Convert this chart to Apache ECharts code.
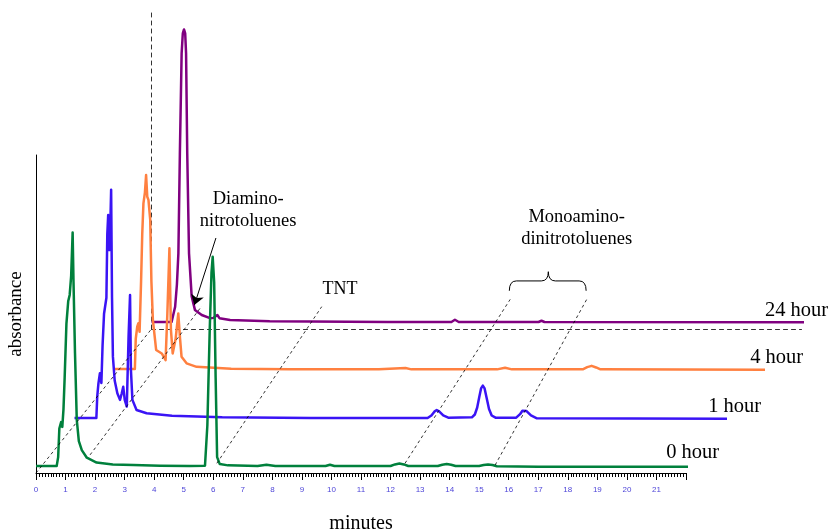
<!DOCTYPE html>
<html>
<head>
<meta charset="utf-8">
<script src="https://cdn.jsdelivr.net/npm/echarts@6/dist/echarts.min.js"></script>
<style>
  html, body { margin: 0; padding: 0; background: #fff; }
  #chart { width: 830px; height: 530px; }
</style>
</head>
<body>
<div id="chart"></div>
<script>
// retention time (minutes) / absorbance, one pair of arrays per sampling time
const hour0Time = [0, 0.7, 0.75, 0.79, 0.85, 0.89, 0.93, 0.97, 1.03, 1.09, 1.14, 1.19, 1.24, 1.27, 1.32, 1.38, 1.45, 1.55, 1.72, 2.05, 2.6, 3.3, 4.2, 5.2, 5.72, 5.8, 5.88, 5.94, 5.98, 6.03, 6.08, 6.13, 6.22, 6.5, 7.5, 7.8, 8.1, 9.8, 9.95, 10.1, 12.0, 12.15, 12.3, 12.45, 12.6, 13.6, 13.75, 13.9, 14.05, 14.2, 15.0, 15.15, 15.3, 15.45, 15.6, 17, 22.15]
const hour0Abs = [2.2, 2.2, 5, 14, 16, 14.5, 20, 30, 47, 54, 56, 62, 75.6, 60, 37.7, 16.7, 10, 7.2, 4.8, 3.3, 2.7, 2.5, 2.3, 2.2, 2.3, 15, 45, 63, 68, 60, 30, 5, 2.8, 2.4, 2.2, 2.6, 2.2, 2.2, 2.6, 2.2, 2.2, 2.7, 3.0, 2.7, 2.2, 2.2, 2.6, 2.8, 2.6, 2.2, 2.2, 2.5, 2.7, 2.5, 2.1, 2.0, 2.0]

const hour1Time = [0, 0.74, 0.77, 0.81, 0.86, 0.91, 0.95, 1.0, 1.08, 1.11, 1.14, 1.18, 1.21, 1.24, 1.27, 1.3, 1.36, 1.45, 1.54, 1.6, 1.65, 1.7, 1.77, 1.83, 1.88, 1.91, 1.96, 2.1, 2.44, 3.3, 5, 8, 11.95, 12.08, 12.18, 12.26, 12.35, 12.48, 12.65, 13.45, 13.55, 13.63, 13.7, 13.76, 13.82, 13.88, 13.95, 14.03, 14.12, 14.25, 14.95, 15.08, 15.16, 15.22, 15.3, 15.45, 15.65, 22.15]
const hour1Abs = [2.2, 2.2, 9, 13.1, 16.3, 13.2, 25, 35, 40, 60, 66, 55, 62, 74, 40, 21.5, 14, 10, 7.9, 10, 12, 7.9, 5.8, 27.8, 40.9, 17.3, 7.9, 4.7, 3.7, 2.9, 2.4, 2.2, 2.2, 3.0, 4.2, 4.7, 4.2, 3.0, 2.3, 2.4, 3.3, 5.5, 8.8, 11.5, 12.4, 11.5, 8.5, 5.0, 3.0, 2.3, 2.3, 3.4, 4.5, 4.9, 4.4, 3.0, 2.1, 2.0]

const hour4Time = [0, 0.74, 0.77, 0.82, 0.86, 0.9, 0.95, 0.99, 1.03, 1.08, 1.12, 1.16, 1.2, 1.26, 1.3, 1.35, 1.46, 1.65, 1.78, 1.84, 1.91, 1.96, 2.02, 2.12, 2.21, 2.27, 2.32, 2.49, 2.83, 4, 6, 9, 9.9, 10.1, 13.0, 13.27, 13.5, 15.9, 16.05, 16.2, 16.35, 16.5, 22.15]
const hour4Abs = [2.5, 2.5, 12, 15.8, 16.9, 14.2, 30, 45, 54.6, 58, 63.5, 56.7, 55.7, 49.4, 30, 17.9, 8.5, 7.4, 5.3, 20, 40.5, 15, 7.4, 12, 20, 12, 6.4, 4.3, 3.2, 2.6, 2.4, 2.4, 2.8, 2.4, 2.4, 2.9, 2.4, 2.4, 3.1, 3.5, 3.0, 2.4, 2.3]

const hour24Time = [0, 0.68, 0.8, 0.86, 0.91, 0.96, 1.02, 1.06, 1.1, 1.14, 1.17, 1.21, 1.27, 1.36, 1.47, 1.7, 1.98, 2.1, 2.23, 2.3, 2.66, 4, 8, 10.15, 10.27, 10.4, 13.1, 13.2, 13.3, 22.15]
const hour24Abs = [2.2, 2.2, 7, 14, 23.8, 55, 86.7, 93, 94.2, 93, 86.7, 55, 23.8, 10.2, 6, 4.4, 3.4, 3.5, 4.4, 3.4, 2.8, 2.4, 2.2, 2.2, 2.9, 2.2, 2.2, 2.6, 2.2, 2.1]

const traceNames = ['0 hour', '1 hour', '4 hour', '24 hour']

const SERIF = '"Liberation Serif", "Times New Roman", serif'
const colors = ['#00803c', '#3a14f5', '#ff8040', '#800080']
const DX = 38.5   // px shift per trace (waterfall offset)
const DY = 48

const traces = [
  [hour0Time, hour0Abs],
  [hour1Time, hour1Abs],
  [hour4Time, hour4Abs],
  [hour24Time, hour24Abs]
]

// guide lines, in the 0-hour frame (minutes, absorbance)
const guides = [
  [[0, 0], [3.91, 45.3]],
  [[1.83, 5.7], [5.61, 52.5]],
  [[6.12, 3.05], [9.67, 52.3]],
  [[12.49, 3.05], [16.05, 54.6]],
  [[15.54, 2.5], [18.64, 54.6]]
]

const chart = echarts.init(document.getElementById('chart'))

const grids = traces.map((_, k) => ({
  left: 36 + DX * k,
  top: 155 - DY * k,
  width: 650,
  height: 318,
  outerBoundsMode: 'none',
  containLabel: false
}))

const dashed = { color: '#333', width: 1, type: [4, 4] }

const xAxes = traces.map((_, k) => ({
  type: 'value',
  gridIndex: k,
  min: 0,
  max: 22,
  interval: 1,
  show: k === 0 || k === 3,
  axisLine: { show: true, onZero: false, lineStyle: k === 0 ? { color: '#000', width: 1 } : dashed },
  axisTick: { show: k === 0, length: 7, lineStyle: { color: '#000' } },
  minorTick: { show: k === 0, splitNumber: 10, length: 4, lineStyle: { color: '#000' } },
  axisLabel: {
    show: k === 0, showMaxLabel: false, margin: 13,
    fontSize: 8, fontFamily: '"Liberation Sans", Arial, sans-serif', color: '#4f46d8'
  },
  splitLine: { show: false },
  name: k === 0 ? 'minutes' : '',
  nameLocation: 'middle',
  nameGap: 41,
  nameTextStyle: { fontFamily: SERIF, fontSize: 20, color: '#000' }
}))

const yAxes = traces.map((_, k) => ({
  type: 'value',
  gridIndex: k,
  min: 0,
  max: 100,
  show: k === 0 || k === 3,
  axisLine: { show: true, onZero: false, lineStyle: k === 0 ? { color: '#000', width: 1 } : dashed },
  axisTick: { show: false },
  axisLabel: { show: false },
  splitLine: { show: false },
  name: k === 0 ? 'absorbance' : '',
  nameLocation: 'middle',
  nameRotate: 90,
  nameGap: 10,
  nameTextStyle: { fontFamily: SERIF, fontSize: 19, color: '#000' }
}))

const traceSeries = traces.map((tr, k) => ({
  type: 'line',
  name: traceNames[k],
  xAxisIndex: k,
  yAxisIndex: k,
  data: tr[0].map((t, i) => [t, tr[1][i]]),
  symbol: 'none',
  clip: false,
  z: 6 - k,
  lineStyle: { color: colors[k], width: 2.5, join: 'round' },
  markLine: k === 0 ? {
    silent: true,
    symbol: ['none', 'arrow'],
    symbolSize: 10,
    label: { show: false },
    lineStyle: { color: '#000', width: 1, type: 'solid' },
    data: [[{ coord: [6.09, 73.9] }, { coord: [5.36, 52.8] }]]
  } : undefined
}))

const guideSeries = guides.map(g => ({
  type: 'line',
  xAxisIndex: 0,
  yAxisIndex: 0,
  data: g,
  symbol: 'none',
  clip: false,
  z: 10,
  lineStyle: { color: '#000', width: 0.8, type: [3, 3] }
}))

chart.setOption({
  animation: false,
  backgroundColor: '#fff',
  grid: grids,
  xAxis: xAxes,
  yAxis: yAxes,
  series: traceSeries.concat(guideSeries)
})

// text annotations and brace, placed through the axes' scales
const px = (k, p) => chart.convertToPixel({ gridIndex: k }, p)

function textEl(pos, text, size, align) {
  return {
    type: 'text',
    x: pos[0],
    y: pos[1],
    z: 20,
    style: {
      text: text,
      fontFamily: SERIF,
      fontSize: size,
      lineHeight: 22,
      fill: '#000',
      align: align, textAlign: align,
      verticalAlign: 'middle', textVerticalAlign: 'middle'
    }
  }
}

const hourLabelPos = [[23.12, 6.3], [23.24, 5.7], [23.36, 6.0], [22.9, 5.7]]
const elements = traceNames.map((n, k) => textEl(px(k, hourLabelPos[k]), n, 20.5, 'right'))
elements.push(textEl(px(0, [7.18, 82.7]), 'Diamino-\nnitrotoluenes', 18.5, 'center'))
elements.push(textEl(px(0, [10.29, 57.9]), 'TNT', 18, 'center'))
elements.push(textEl(px(0, [18.3, 77.0]), 'Monoamino-\ndinitrotoluenes', 18.5, 'center'))

// curly brace over the monoamino peaks
const bl = px(0, [16.02, 57.3]), bb = px(0, [16.02, 60.4])
const br = px(0, [18.62, 57.3]), bt = px(0, [17.34, 63.3])
const r = 7
const yb = bb[1]
const braceStyle = { fill: 'none', stroke: '#000', lineWidth: 1 }
const curve = (x1, y1, cx, cy, x2, y2) => ({
  type: 'bezierCurve', z: 20, style: braceStyle,
  shape: { x1: x1, y1: y1, cpx1: cx, cpy1: cy, x2: x2, y2: y2 }
})
const seg = (x1, y1, x2, y2) => ({
  type: 'line', z: 20, style: braceStyle,
  shape: { x1: x1, y1: y1, x2: x2, y2: y2 }
})
elements.push(
  curve(bl[0], bl[1], bl[0], yb, bl[0] + r, yb),
  seg(bl[0] + r, yb, bt[0] - r, yb),
  curve(bt[0] - r, yb, bt[0], yb, bt[0], bt[1]),
  curve(bt[0], bt[1], bt[0], yb, bt[0] + r, yb),
  seg(bt[0] + r, yb, br[0] - r, yb),
  curve(br[0] - r, yb, br[0], yb, br[0], br[1])
)

chart.setOption({ graphic: { elements: elements } })
</script>
</body>
</html>
